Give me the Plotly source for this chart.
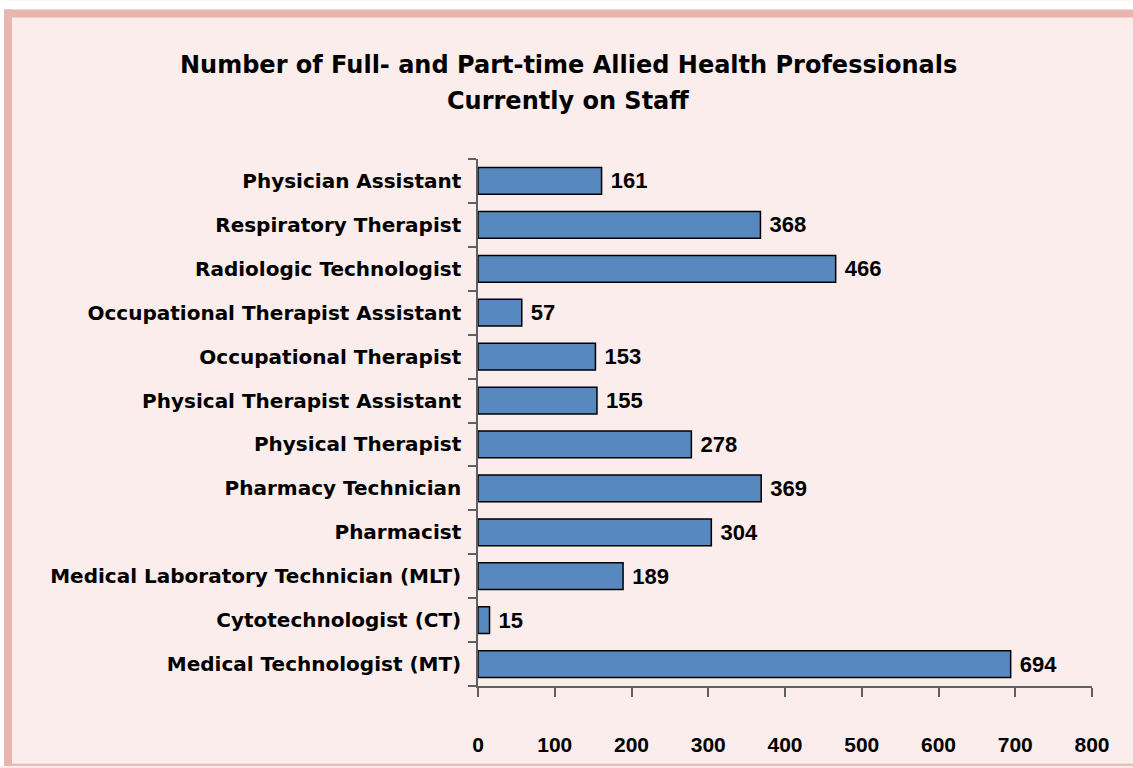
import plotly.graph_objects as go

categories = [
    "Medical Technologist (MT)",
    "Cytotechnologist (CT)",
    "Medical Laboratory Technician (MLT)",
    "Pharmacist",
    "Pharmacy Technician",
    "Physical Therapist",
    "Physical Therapist Assistant",
    "Occupational Therapist",
    "Occupational Therapist Assistant",
    "Radiologic Technologist",
    "Respiratory Therapist",
    "Physician Assistant",
]
values = [694, 15, 189, 304, 369, 278, 155, 153, 57, 466, 368, 161]
x_ticks = [0, 100, 200, 300, 400, 500, 600, 700, 800]

W, H = 1133, 768
L, R, T, B = 478, 41, 159, 80
PW, PH = W - L - R, H - T - B

def px(x):
    return (x - L) / PW

def py(y):
    return (H - B - y) / PH

LABEL_FONT = "DejaVu Sans, sans-serif"
NUM_FONT = "Liberation Sans, Arial, sans-serif"
INNER = "#FAEDEB"
PINK = "#E8B6AF"

fig = go.Figure(
    go.Bar(
        x=values,
        y=categories,
        orientation="h",
        marker=dict(color="#5889BE", line=dict(color="#000000", width=1.5)),
        text=[" " + str(v) for v in values],
        textposition="outside",
        textfont=dict(family=NUM_FONT, size=22, color="#000000", weight="bold"),
        cliponaxis=False,
        hoverinfo="skip",
    )
)

shapes = [
    dict(type="rect", xref="paper", yref="paper", x0=px(0), x1=px(W + 5), y0=py(0), y1=py(9),
         fillcolor="#FFFFFF", line=dict(width=0), layer="below"),
    dict(type="rect", xref="paper", yref="paper", x0=px(0), x1=px(4), y0=py(0), y1=py(H),
         fillcolor="#FFFFFF", line=dict(width=0), layer="below"),
    dict(type="rect", xref="paper", yref="paper", x0=px(4), x1=px(W + 5), y0=py(9), y1=py(17),
         fillcolor=PINK, line=dict(width=0), layer="below"),
    dict(type="rect", xref="paper", yref="paper", x0=px(4), x1=px(12), y0=py(9), y1=py(H),
         fillcolor=PINK, line=dict(width=0), layer="below"),
    dict(type="rect", xref="paper", yref="paper", x0=px(4), x1=px(W + 5), y0=py(766), y1=py(H),
         fillcolor=PINK, line=dict(width=0), layer="below"),
]

annotations = [
    dict(text="<b>Number of Full- and Part-time Allied Health Professionals</b>",
         xref="paper", yref="paper", x=px(568), y=py(65), xanchor="center", yanchor="middle",
         showarrow=False, font=dict(family=LABEL_FONT, size=24, color="#000000")),
    dict(text="<b>Currently on Staff</b>",
         xref="paper", yref="paper", x=px(568), y=py(101), xanchor="center", yanchor="middle",
         showarrow=False, font=dict(family=LABEL_FONT, size=24, color="#000000")),
]

fig.update_layout(
    width=W, height=H,
    margin=dict(l=L, r=R, t=T, b=B, pad=0),
    paper_bgcolor=INNER,
    plot_bgcolor="rgba(0,0,0,0)",
    bargap=0.39,
    showlegend=False,
    shapes=shapes,
    annotations=annotations,
    xaxis=dict(
        range=[0, 800], tickvals=x_ticks, ticktext=[str(t) for t in x_ticks],
        showgrid=False, zeroline=False, showline=True, linecolor="#606060", linewidth=1.5,
        ticks="outside", ticklen=9, tickcolor="#606060", tickwidth=1.5,
        tickfont=dict(family=NUM_FONT, size=21, color="#000000", weight="bold"),
        ticklabelstandoff=30, fixedrange=True,
    ),
    yaxis=dict(
        categoryorder="array", categoryarray=categories,
        showgrid=False, zeroline=False, showline=True, linecolor="#606060", linewidth=1.5,
        ticks="outside", ticklen=8, tickcolor="#606060", tickwidth=1.5, tickson="boundaries",
        tickfont=dict(family=LABEL_FONT, size=20, color="#000000", weight="bold"),
        ticklabelstandoff=11, fixedrange=True,
    ),
)

fig.write_html("out.html", config={"displayModeBar": False})

with open("out.html", "r", encoding="utf-8") as f:
    html = f.read()
html = html.replace("<head>", "<head><style>html,body{margin:0;padding:0;overflow:hidden;background:#FAEDEB;}</style>", 1)
with open("out.html", "w", encoding="utf-8") as f:
    f.write(html)
